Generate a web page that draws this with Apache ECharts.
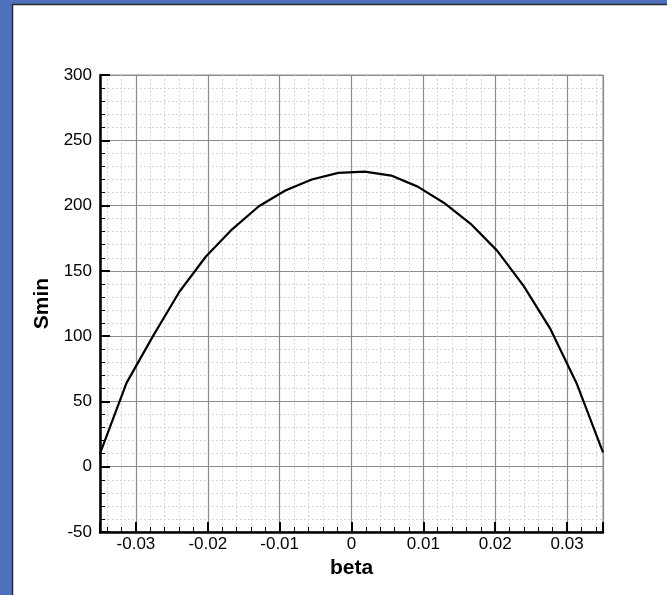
<!DOCTYPE html>
<html>
<head>
<meta charset="utf-8">
<script src="https://cdn.jsdelivr.net/npm/echarts@6/dist/echarts.min.js"></script>
<style>
  html, body { margin: 0; padding: 0; background: #ffffff; }
  #chart { width: 667px; height: 595px; }
</style>
</head>
<body>
<div id="chart"></div>
<script>
// beta samples (20 evenly spaced points across the range)
const betaValues = [
  -0.035, -0.03132, -0.02763, -0.02395, -0.02026, -0.01658, -0.01289,
  -0.00921, -0.00553, -0.00184, 0.00184, 0.00553, 0.00921, 0.01289,
  0.01658, 0.02026, 0.02395, 0.02763, 0.03132, 0.035
];
// minimum S at each beta
const sminValues = [
  10, 64, 100, 134, 161, 182, 199.5, 211.5, 220, 225,
  226, 223, 214.5, 202, 186, 165.5, 138.5, 106, 64, 11
];
const xAxisName = 'beta';
const yAxisName = 'Smin';

const points = betaValues.map((b, i) => [b, sminValues[i]]);

const labelFont = { fontFamily: '"Liberation Sans", Arial, sans-serif', fontSize: 17, color: '#000' };
const nameFont = { fontFamily: '"Liberation Sans", Arial, sans-serif', fontSize: 21, fontWeight: 'bold', color: '#000' };

const chart = echarts.init(document.getElementById('chart'), null, { renderer: 'canvas' });

chart.setOption({
  animation: false,
  backgroundColor: '#4f70bd',
  graphic: [{
    type: 'rect',
    z: -10,
    shape: { x: 12.5, y: 4.5, width: 700, height: 640 },
    style: { fill: '#ffffff', stroke: '#2a2a2a', lineWidth: 1.5 }
  }],
  grid: {
    left: 100, top: 75, right: 64, bottom: 63,
    show: true, borderColor: '#8a8a8a', borderWidth: 1, backgroundColor: 'transparent'
  },
  xAxis: {
    type: 'value',
    min: -0.035, max: 0.035,
    splitNumber: 7,
    name: xAxisName,
    nameLocation: 'middle',
    nameGap: 21,
    nameTextStyle: nameFont,
    axisLine: { show: true, onZero: false, lineStyle: { color: '#000', width: 2.5 } },
    axisTick: { show: true, inside: true, length: 10, lineStyle: { color: '#000', width: 2 } },
    minorTick: { show: true, splitNumber: 5, length: 5, lineStyle: { color: '#000', width: 1 } },
    axisLabel: Object.assign({ margin: 4, showMinLabel: false, showMaxLabel: false }, labelFont),
    splitLine: { show: true, lineStyle: { color: '#8c8c8c', width: 1.2 } },
    minorSplitLine: { show: true, lineStyle: { color: '#cccccc', width: 1, type: [1.5, 2.5] } }
  },
  yAxis: {
    type: 'value',
    min: -50, max: 300, interval: 50,
    name: yAxisName,
    nameLocation: 'middle',
    nameRotate: 90,
    nameGap: 37,
    nameTextStyle: nameFont,
    axisLine: { show: true, onZero: false, lineStyle: { color: '#000', width: 2.5 } },
    axisTick: { show: true, inside: true, length: 10, lineStyle: { color: '#000', width: 2 } },
    minorTick: { show: true, splitNumber: 5, length: 5, lineStyle: { color: '#000', width: 1 } },
    axisLabel: Object.assign({ margin: 8 }, labelFont),
    splitLine: { show: true, lineStyle: { color: '#8c8c8c', width: 1.2 } },
    minorSplitLine: { show: true, lineStyle: { color: '#cccccc', width: 1, type: [1.5, 2.5] } }
  },
  series: [{
    type: 'line',
    data: points,
    showSymbol: false,
    smooth: false,
    lineStyle: { color: '#000', width: 2.2 },
    z: 5
  }]
});
</script>
</body>
</html>
